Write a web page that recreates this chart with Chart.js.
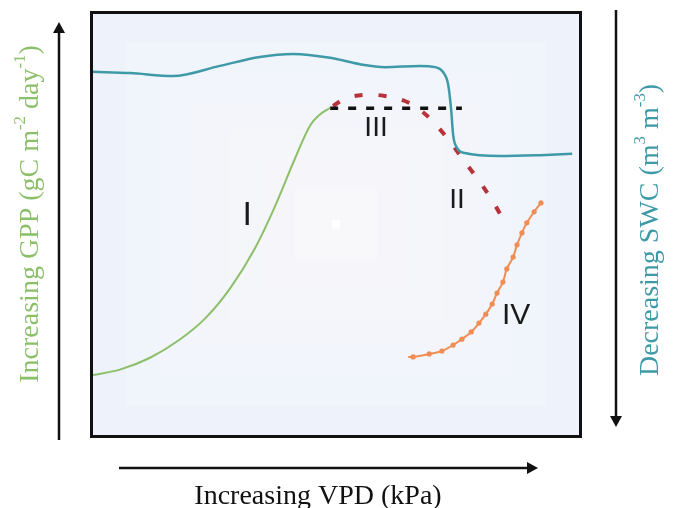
<!DOCTYPE html>
<html>
<head>
<meta charset="utf-8">
<script src="https://cdn.jsdelivr.net/npm/chart.js@4"></script>
<style>
  html, body { margin: 0; padding: 0; background: #fff; }
  #chart { display: block; }
</style>
</head>
<body>
<canvas id="chart" width="673" height="508"></canvas>
<script>
// conceptual curves, x = VPD (0-100), y = relative level (0-100)
const swcX = [0.2, 7.8, 16.6, 26.2, 34.4, 41.2, 48.8, 54.9, 60.0, 67.2, 70.3, 71.9, 73.0, 73.6, 74.0, 74.8, 76.4, 83.6, 91.8, 98.4];
const swcY = [86.1, 85.8, 85.1, 87.5, 89.6, 90.3, 89.4, 87.9, 87.2, 87.5, 87.2, 86.1, 83.0, 77.1, 71.2, 68.1, 66.9, 66.2, 66.4, 66.7];

const gppX = [0.2, 5.7, 11.9, 18.0, 23.2, 28.3, 33.4, 37.5, 41.6, 44.7, 46.7, 48.8];
const gppY = [14.4, 15.7, 18.5, 22.8, 27.8, 34.9, 44.4, 54.3, 65.6, 73.4, 76.0, 77.6];

const plateauX = [48.8, 75.8];
const plateauY = [77.5, 77.5];

const declineX = [49.4, 51.8, 55.5, 60.0, 64.1, 67.2, 70.3, 73.4, 76.4, 79.5, 82.2, 84.8];
const declineY = [78.0, 79.7, 80.6, 80.4, 79.2, 77.1, 73.8, 69.5, 64.8, 60.0, 55.3, 50.1];

const recoverX = [64.8, 65.8, 69.1, 71.7, 74.0, 75.8, 77.7, 79.3, 80.7, 82.0, 83.0, 84.2, 85.0, 86.3, 87.1, 88.1, 89.1, 90.6, 92.0];
const recoverY = [18.7, 18.7, 19.4, 20.1, 21.5, 22.9, 24.6, 26.7, 28.8, 31.2, 33.8, 36.4, 39.5, 42.3, 45.2, 48.0, 50.4, 53.0, 55.1];

const stageNames = ['I', 'II', 'III', 'IV'];
const stageX = [31.8, 74.8, 58.2, 86.9];
const stageY = [52.2, 55.8, 72.8, 28.4];

function pts(xs, ys) {
  return xs.map((x, i) => ({ x: x, y: ys[i] }));
}

const GREEN = '#8cbf6a';
const TEAL = '#3f9aa8';

// light panel with faint nested squares
const panelBg = {
  id: 'panelBg',
  beforeDatasetsDraw(chart) {
    const { ctx, chartArea: a } = chart;
    ctx.save();
    ctx.fillStyle = '#eef3fb';
    ctx.fillRect(a.left, a.top, a.width, a.height);
    const cx = (a.left + a.right) / 2, cy = (a.top + a.bottom) / 2;
    const steps = 7;
    for (let i = 1; i <= steps; i++) {
      const t = i / steps;
      const hw = a.width / 2 * (1 - t * 0.97);
      const hh = a.height / 2 * (1 - t * 0.97);
      const r = Math.round(239 + 10 * t), g = Math.round(244 + 3 * t), b = Math.round(251 - 1 * t);
      ctx.fillStyle = `rgb(${r},${g},${b})`;
      ctx.fillRect(cx - hw, cy - hh, hw * 2, hh * 2);
    }
    ctx.fillStyle = '#ffffff';
    ctx.fillRect(cx - 4, cy - 4, 8, 8);
    ctx.restore();
  },
  afterDatasetsDraw(chart) {
    const { ctx, chartArea: a } = chart;
    ctx.save();
    ctx.strokeStyle = '#111';
    ctx.lineWidth = 3;
    ctx.strokeRect(a.left - 0.5, a.top - 0.5, a.width + 1, a.height + 1);
    ctx.restore();
  }
};

function richWidth(ctx, parts, size) {
  let w = 0;
  parts.forEach(p => {
    ctx.font = (p.sup ? size * 0.6 : size) + 'px "Liberation Serif", "Times New Roman", serif';
    w += ctx.measureText(p.t).width;
  });
  return w;
}

function drawRich(ctx, cx, cy, parts, size, color, angle) {
  ctx.save();
  ctx.translate(cx, cy);
  ctx.rotate(angle);
  ctx.fillStyle = color;
  ctx.textBaseline = 'middle';
  ctx.textAlign = 'left';
  let x = -richWidth(ctx, parts, size) / 2;
  parts.forEach(p => {
    ctx.font = (p.sup ? size * 0.6 : size) + 'px "Liberation Serif", "Times New Roman", serif';
    ctx.fillText(p.t, x, p.sup ? -size * 0.38 : 0);
    x += ctx.measureText(p.t).width;
  });
  ctx.restore();
}

function arrow(ctx, x1, y1, x2, y2) {
  const ang = Math.atan2(y2 - y1, x2 - x1);
  const hl = 11, hw = 6;
  ctx.beginPath();
  ctx.moveTo(x1, y1);
  ctx.lineTo(x2 - Math.cos(ang) * hl, y2 - Math.sin(ang) * hl);
  ctx.stroke();
  ctx.beginPath();
  ctx.moveTo(x2, y2);
  ctx.lineTo(x2 - Math.cos(ang) * hl - Math.sin(ang) * hw, y2 - Math.sin(ang) * hl + Math.cos(ang) * hw);
  ctx.lineTo(x2 - Math.cos(ang) * hl + Math.sin(ang) * hw, y2 - Math.sin(ang) * hl - Math.cos(ang) * hw);
  ctx.closePath();
  ctx.fill();
}

const decorations = {
  id: 'decorations',
  afterDraw(chart) {
    const { ctx, scales } = chart;
    ctx.save();
    // stage numerals
    ctx.fillStyle = '#1a1a1a';
    ctx.textAlign = 'center';
    ctx.textBaseline = 'middle';
    const sizes = { I: 34, II: 28, III: 28, IV: 30 };
    stageNames.forEach((s, i) => {
      ctx.font = sizes[s] + 'px "Liberation Sans", Arial, sans-serif';
      ctx.fillText(s, scales.x.getPixelForValue(stageX[i]), scales.y.getPixelForValue(stageY[i]));
    });

    // direction arrows
    ctx.strokeStyle = '#111';
    ctx.fillStyle = '#111';
    ctx.lineWidth = 2.5;
    arrow(ctx, 59, 440, 59, 22);
    arrow(ctx, 616, 10, 616, 427);
    arrow(ctx, 119, 468, 538, 468);

    // axis titles
    ctx.fillStyle = '#111';
    ctx.font = '28px "Liberation Serif", "Times New Roman", serif';
    ctx.textAlign = 'center';
    ctx.textBaseline = 'alphabetic';
    ctx.fillText('Increasing VPD (kPa)', 318, 504);

    drawRich(ctx, 31, 214, [
      { t: 'Increasing GPP (gC m' }, { t: '-2', sup: true }, { t: ' day' }, { t: '-1', sup: true }, { t: ')' }
    ], 28, GREEN, -Math.PI / 2);

    drawRich(ctx, 651, 230, [
      { t: 'Decreasing SWC (m' }, { t: '3', sup: true }, { t: ' m' }, { t: '-3', sup: true }, { t: ')' }
    ], 28, TEAL, -Math.PI / 2);
    ctx.restore();
  }
};

new Chart(document.getElementById('chart').getContext('2d'), {
  type: 'line',
  data: {
    datasets: [
      {
        label: 'SWC',
        data: pts(swcX, swcY),
        borderColor: TEAL,
        borderWidth: 2.5,
        cubicInterpolationMode: 'monotone',
        pointRadius: 0
      },
      {
        label: 'GPP',
        data: pts(gppX, gppY),
        borderColor: GREEN,
        borderWidth: 2,
        cubicInterpolationMode: 'monotone',
        pointRadius: 0
      },
      {
        label: 'Plateau',
        data: pts(plateauX, plateauY),
        borderColor: '#111',
        borderWidth: 3.5,
        borderDash: [8, 10],
        pointRadius: 0
      },
      {
        label: 'Decline',
        data: pts(declineX, declineY),
        borderColor: '#b8323a',
        borderWidth: 4,
        borderDash: [8, 16],
        tension: 0.4,
        pointRadius: 0
      },
      {
        label: 'Recovery',
        data: pts(recoverX, recoverY),
        borderColor: '#f08d55',
        backgroundColor: '#f08d55',
        borderWidth: 2,
        tension: 0.4,
        pointRadius: (c) => c.dataIndex === 0 ? 0 : 2.6,
        pointBorderWidth: 0
      }
    ]
  },
  options: {
    responsive: false,
    animation: false,
    layout: { padding: { left: 92, right: 93, top: 13, bottom: 72 } },
    plugins: {
      legend: { display: false },
      tooltip: { enabled: false }
    },
    scales: {
      x: { type: 'linear', min: 0, max: 100, display: false },
      y: { type: 'linear', min: 0, max: 100, display: false }
    }
  },
  plugins: [panelBg, decorations]
});
</script>
</body>
</html>
